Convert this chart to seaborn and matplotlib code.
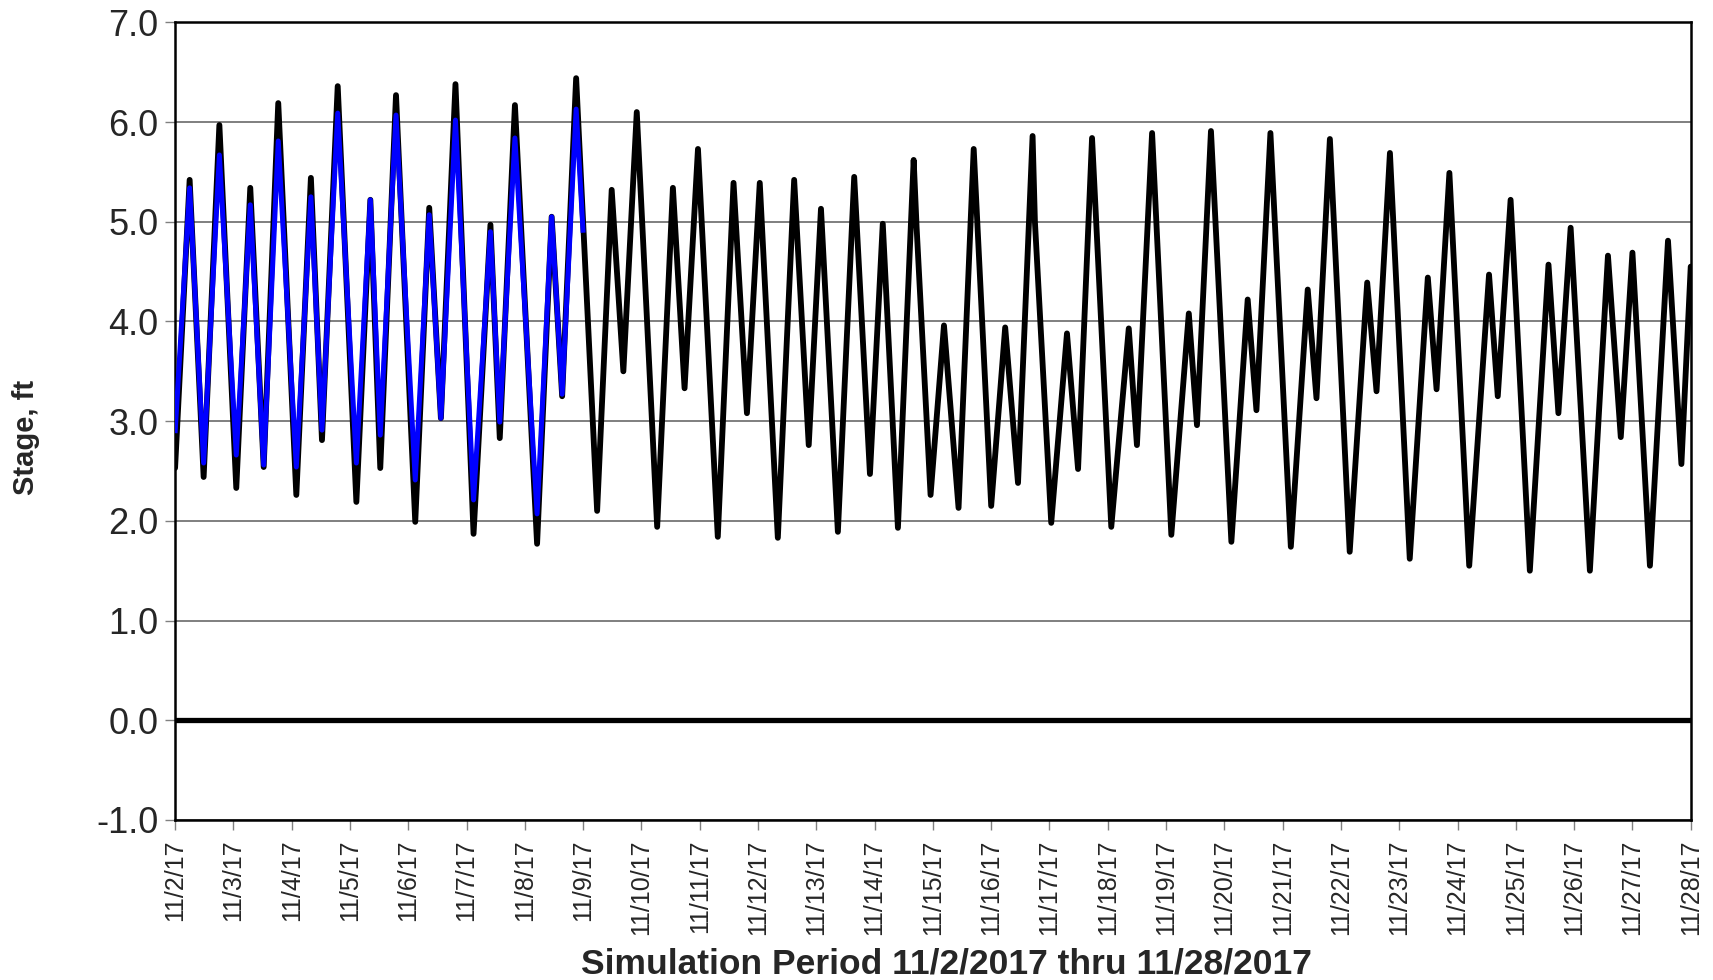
import pandas as pd
import numpy as np
import matplotlib
matplotlib.use("Agg")
import matplotlib.pyplot as plt
import matplotlib.dates as mdates
from matplotlib.ticker import FuncFormatter
import seaborn as sns

# turning points (days after 11/2/2017 00:00, stage in ft)
sim_days = [0.00, 0.25, 0.49, 0.76, 1.05, 1.29, 1.52, 1.77, 2.08, 2.33,
            2.52, 2.79, 3.11, 3.35, 3.52, 3.79, 4.12, 4.36, 4.56, 4.81,
            5.12, 5.41, 5.57, 5.83, 6.21, 6.46, 6.64, 6.88, 7.24, 7.49,
            7.69, 7.92, 8.27, 8.54, 8.74, 8.97, 9.31, 9.58, 9.81, 10.03,
            10.34, 10.62, 10.87, 11.08, 11.37, 11.65, 11.92, 12.14, 12.40, 12.67,
            12.72, 12.96, 13.19, 13.44, 13.70, 14.00, 14.24, 14.46, 14.71, 14.75,
            15.03, 15.30, 15.49, 15.73, 16.06, 16.36, 16.50, 16.76, 17.09, 17.39,
            17.53, 17.77, 18.12, 18.40, 18.55, 18.79, 19.14, 19.43, 19.58, 19.81,
            20.15, 20.45, 20.61, 20.84, 21.18, 21.49, 21.64, 21.86, 22.20, 22.54,
            22.69, 22.91, 23.24, 23.56, 23.73, 23.94, 24.27, 24.58, 24.80, 25.00,
            25.30, 25.61, 25.84, 26.00]
sim_stage = [2.53, 5.42, 2.44, 5.97, 2.33, 5.34, 2.54, 6.19, 2.26, 5.44,
             2.81, 6.36, 2.19, 5.22, 2.53, 6.27, 1.99, 5.14, 3.03, 6.38,
             1.87, 4.97, 2.83, 6.17, 1.77, 5.05, 3.25, 6.44, 2.10, 5.32,
             3.50, 6.10, 1.94, 5.34, 3.33, 5.73, 1.84, 5.39, 3.08, 5.39,
             1.83, 5.42, 2.76, 5.13, 1.89, 5.45, 2.47, 4.98, 1.93, 5.62,
             4.95, 2.26, 3.96, 2.13, 5.73, 2.15, 3.94, 2.38, 5.86, 5.00,
             1.98, 3.88, 2.52, 5.84, 1.94, 3.93, 2.76, 5.89, 1.86, 4.08,
             2.96, 5.91, 1.79, 4.22, 3.11, 5.89, 1.74, 4.32, 3.23, 5.83,
             1.69, 4.39, 3.30, 5.69, 1.62, 4.44, 3.32, 5.49, 1.55, 4.47,
             3.25, 5.22, 1.50, 4.57, 3.08, 4.94, 1.50, 4.66, 2.84, 4.69,
             1.55, 4.81, 2.57, 4.55]

obs_days = [0.00, 0.25, 0.49, 0.76, 1.05, 1.29, 1.52, 1.77, 2.08, 2.33,
            2.52, 2.79, 3.11, 3.35, 3.52, 3.79, 4.12, 4.36, 4.56, 4.81,
            5.12, 5.41, 5.57, 5.83, 6.21, 6.46, 6.64, 6.88, 7.00]
obs_stage = [2.88, 5.34, 2.58, 5.67, 2.66, 5.17, 2.56, 5.81, 2.54, 5.25,
             2.91, 6.09, 2.58, 5.22, 2.86, 6.07, 2.41, 5.07, 3.03, 6.02,
             2.21, 4.90, 2.99, 5.84, 2.07, 5.05, 3.27, 6.13, 4.89]

start = pd.Timestamp("2017-11-02")
end = pd.Timestamp("2017-11-28")
y_ticks = [-1.0, 0.0, 1.0, 2.0, 3.0, 4.0, 5.0, 6.0, 7.0]

sim = pd.DataFrame({"time": start + pd.to_timedelta(sim_days, unit="D"), "stage": sim_stage})
obs = pd.DataFrame({"time": start + pd.to_timedelta(obs_days, unit="D"), "stage": obs_stage})

sns.set_style("white")
plt.rcParams["font.family"] = ["Liberation Sans", "DejaVu Sans"]

fig = plt.figure(figsize=(17.13, 9.8), dpi=100)
ax = fig.add_axes([0.1022, 0.1633, 0.8848, 0.8139])

ax.grid(axis="y", color="#6a6a6a", linewidth=1.2)
ax.set_axisbelow(True)
ax.axhline(0, color="black", linewidth=3.8, zorder=2)

sns.lineplot(data=sim, x="time", y="stage", ax=ax, color="black", linewidth=4.2,
             solid_joinstyle="round", solid_capstyle="round", zorder=3)
sns.lineplot(data=obs, x="time", y="stage", ax=ax, color="#0000ff", linewidth=3.6,
             solid_joinstyle="round", solid_capstyle="butt", zorder=4)

ax.set_xlim(start, end)
ax.set_ylim(-1.0, 7.0)
ax.set_yticks(y_ticks)
ax.yaxis.set_major_formatter(FuncFormatter(lambda v, p: f"{v:.1f}"))
ax.xaxis.set_major_locator(mdates.DayLocator())
ax.xaxis.set_major_formatter(FuncFormatter(
    lambda v, p: (lambda d: f"{d.month}/{d.day}/{d.strftime('%y')}")(mdates.num2date(v))))

ax.tick_params(axis="y", labelsize=26, length=7, width=1, color="#808080", pad=5)
ax.tick_params(axis="x", labelsize=18, length=7, width=1, color="#808080", pad=7, labelrotation=90)
ax.tick_params(left=True, bottom=True, direction="out")

for s in ax.spines.values():
    s.set_color("black")
    s.set_linewidth(1.8)

ax.set_ylabel("Stage, ft", fontsize=21, fontweight="bold")
ax.yaxis.set_label_coords(-0.089, 0.48)
ax.set_xlabel("Simulation Period 11/2/2017 thru 11/28/2017", fontsize=25.5, fontweight="bold")
ax.xaxis.set_label_coords(0.509, -0.160)

fig.savefig("out.png", dpi=100)
